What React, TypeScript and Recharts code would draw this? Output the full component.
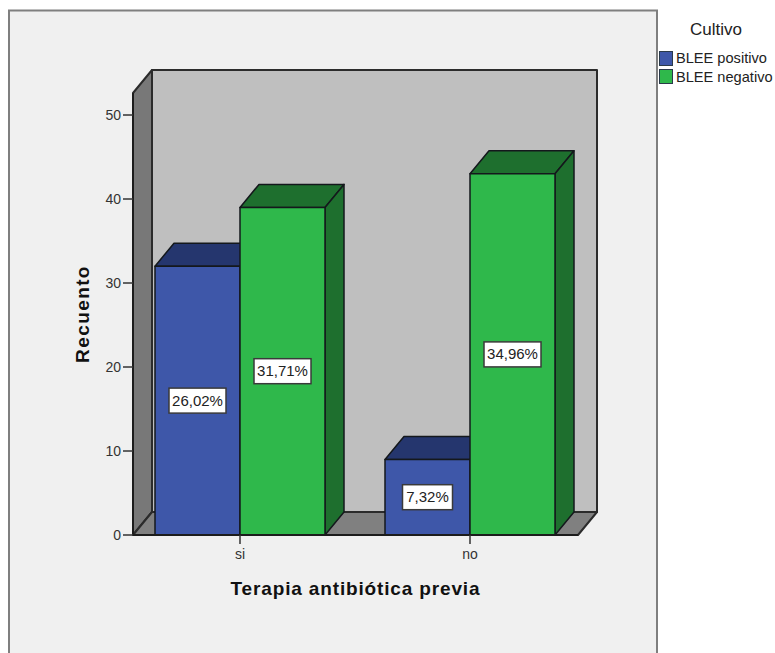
import React from "react";
import { Bar, BarChart, LabelList, XAxis, YAxis } from "recharts";

const categories = ["si", "no"];
const bleePositivo = [32, 9];
const bleeNegativo = [39, 43];
const positivoLabels = ["26,02%", "7,32%"];
const negativoLabels = ["31,71%", "34,96%"];
const yTicks = [0, 10, 20, 30, 40, 50];

const rows = categories.map((name, i) => ({
  name,
  positivo: bleePositivo[i],
  negativo: bleeNegativo[i],
  positivoLabel: positivoLabels[i],
  negativoLabel: negativoLabels[i],
}));

const FONT = "'Liberation Sans', Arial, sans-serif";
const OUTLINE = "#14181c";

// front plane of the box and how far back the depth goes
const LEFT = 133;
const RIGHT = 578;
const TOP = 93;
const BOTTOM = 535;
const DX = 19;
const DY = 23;

const BLUE = { front: "#3e57a9", top: "#25366e", side: "#25366e" };
const GREEN = { front: "#2fb84b", top: "#1e6f2e", side: "#1e6f2e" };

function Bar3D(props: any) {
  const { x, y, width, height, colors } = props;
  const r = x + width;
  const b = y + height;
  return (
    <g stroke={OUTLINE} strokeWidth={1.5} strokeLinejoin="round">
      <polygon
        points={`${x},${y} ${x + DX},${y - DY} ${r + DX},${y - DY} ${r},${y}`}
        fill={colors.top}
      />
      <polygon
        points={`${r},${y} ${r + DX},${y - DY} ${r + DX},${b - DY} ${r},${b}`}
        fill={colors.side}
      />
      <rect x={x} y={y} width={width} height={height} fill={colors.front} />
    </g>
  );
}

function PercentBox(props: any) {
  const { x, y, width, height, value } = props;
  const w = String(value).length * 7 + 15;
  const h = 25;
  const cx = x + width / 2;
  const cy = y + height / 2;
  return (
    <g>
      <rect
        x={cx - w / 2}
        y={cy - h / 2}
        width={w}
        height={h}
        fill="#fff"
        stroke="#3a3a3a"
        strokeWidth={1.5}
      />
      <text
        x={cx}
        y={cy + 5}
        textAnchor="middle"
        fontFamily={FONT}
        fontSize={15}
        fill="#222"
      >
        {value}
      </text>
    </g>
  );
}

// walls and floor sit behind the transparent chart svg
function Backdrop() {
  return (
    <svg
      width={775}
      height={653}
      style={{ position: "absolute", left: 0, top: 0 }}
    >
      <rect
        x={9}
        y={10.5}
        width={648}
        height={660}
        fill="#f0f0f0"
        stroke="#7f7f7f"
        strokeWidth={2}
      />
      <g stroke="#2b2b2b" strokeWidth={2} strokeLinejoin="round">
        <rect
          x={LEFT + DX}
          y={TOP - DY}
          width={RIGHT - LEFT}
          height={BOTTOM - TOP}
          fill="#bfbfbf"
        />
        <polygon
          points={`${LEFT},${TOP} ${LEFT + DX},${TOP - DY} ${LEFT + DX},${BOTTOM - DY} ${LEFT},${BOTTOM}`}
          fill="#787878"
        />
        <polygon
          points={`${LEFT},${BOTTOM} ${LEFT + DX},${BOTTOM - DY} ${RIGHT + DX},${BOTTOM - DY} ${RIGHT},${BOTTOM}`}
          fill="#808080"
        />
      </g>
    </svg>
  );
}

function CultivoLegend() {
  const items = [
    { name: "BLEE positivo", colors: BLUE },
    { name: "BLEE negativo", colors: GREEN },
  ];
  return (
    <div
      style={{
        position: "absolute",
        left: 659,
        top: 20,
        width: 116,
        fontFamily: FONT,
        color: "#222",
      }}
    >
      <div
        style={{
          fontSize: 17,
          lineHeight: "20px",
          marginLeft: 31,
          marginBottom: 9,
        }}
      >
        Cultivo
      </div>
      {items.map((item) => (
        <div
          key={item.name}
          style={{
            display: "flex",
            alignItems: "center",
            height: 18.5,
            fontSize: 14.6,
            whiteSpace: "nowrap",
          }}
        >
          <span
            style={{
              display: "inline-block",
              boxSizing: "border-box",
              width: 14,
              height: 15,
              marginRight: 3,
              background: item.colors.front,
              border: "1px solid #2b3a4a",
            }}
          />
          {item.name}
        </div>
      ))}
    </div>
  );
}

export default function App() {
  return (
    <div
      style={{
        position: "absolute",
        left: 0,
        top: 0,
        width: 775,
        height: 653,
        overflow: "hidden",
        background: "#fff",
      }}
    >
      <Backdrop />
      <CultivoLegend />
      <div style={{ position: "absolute", left: 0, top: 0 }}>
        <BarChart
          width={775}
          height={653}
          data={rows}
          barSize={85}
          barGap={0}
          margin={{ top: TOP, right: 775 - RIGHT, bottom: 0, left: 0 }}
        >
          <XAxis
            dataKey="name"
            height={653 - BOTTOM}
            padding={{ left: -8, right: -7 }}
            tickSize={9}
            tickMargin={5}
            tick={{ fontFamily: FONT, fontSize: 14, fill: "#333" }}
            axisLine={{ stroke: "#1c1c1c", strokeWidth: 2 }}
            tickLine={{ stroke: "#333", strokeWidth: 1.5 }}
            label={{
              value: "Terapia antibiótica previa",
              position: "insideTop",
              offset: 47,
              style: {
                fontFamily: FONT,
                fontSize: 19,
                fontWeight: 700,
                letterSpacing: 0.85,
                fill: "#111",
              },
            }}
          />
          <YAxis
            width={LEFT}
            domain={[0, 52.62]}
            ticks={yTicks}
            interval={0}
            tickSize={10}
            tickMargin={2}
            tick={{ fontFamily: FONT, fontSize: 14, fill: "#333" }}
            axisLine={{ stroke: "#1c1c1c", strokeWidth: 2 }}
            tickLine={{ stroke: "#333", strokeWidth: 1.5 }}
            label={{
              value: "Recuento",
              angle: -90,
              position: "insideLeft",
              offset: 82,
              style: {
                fontFamily: FONT,
                fontSize: 19,
                fontWeight: 700,
                letterSpacing: 1.4,
                fill: "#111",
                textAnchor: "middle",
              },
            }}
          />
          <Bar
            dataKey="positivo"
            name="BLEE positivo"
            isAnimationActive={false}
            shape={<Bar3D colors={BLUE} />}
          >
            <LabelList dataKey="positivoLabel" content={<PercentBox />} />
          </Bar>
          <Bar
            dataKey="negativo"
            name="BLEE negativo"
            isAnimationActive={false}
            shape={<Bar3D colors={GREEN} />}
          >
            <LabelList dataKey="negativoLabel" content={<PercentBox />} />
          </Bar>
        </BarChart>
      </div>
    </div>
  );
}
